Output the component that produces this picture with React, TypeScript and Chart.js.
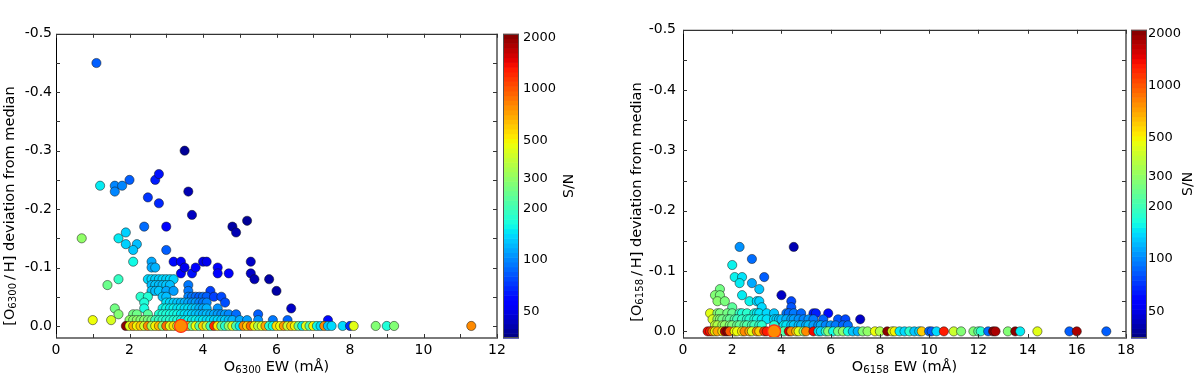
import React, { useEffect, useRef } from "react";
import { Chart, registerables } from "chart.js";

Chart.register(...registerables);

type Pt = [number, number, number]; // [EW (mÅ), deviation from median, S/N]

// ---------- axis / colour-scale values ----------
const SN_MIN = 35;
const SN_MAX = 2100;
const SN_TICKS = [50, 100, 200, 300, 500, 1000, 2000];
const DEV_TICKS = [-0.5, -0.4, -0.3, -0.2, -0.1, 0.0];
const LEFT_EW_TICKS = [0, 2, 4, 6, 8, 10, 12];
const RIGHT_EW_TICKS = [0, 2, 4, 6, 8, 10, 12, 14, 16, 18];

// ---------- left panel: O 6300 ----------
const LEFT_SCATTER: Pt[] = [
  [1.1, -0.45, 85], [1.2, -0.24, 150], [1.6, -0.24, 100], [1.6, -0.23, 100], [1.8, -0.24, 100],
  [2.0, -0.25, 85], [2.5, -0.22, 72], [2.7, -0.25, 65], [2.8, -0.26, 62], [2.8, -0.21, 68],
  [3.5, -0.30, 38], [3.6, -0.23, 42], [3.7, -0.19, 44], [2.4, -0.17, 90], [3.0, -0.17, 58],
  [4.8, -0.17, 40], [4.9, -0.16, 42], [5.2, -0.18, 38], [0.7, -0.15, 300], [1.7, -0.15, 150],
  [1.9, -0.16, 135], [1.9, -0.14, 135], [2.2, -0.14, 125], [2.1, -0.13, 130], [2.1, -0.11, 160],
  [3.0, -0.13, 85], [2.6, -0.11, 115], [2.6, -0.10, 115], [2.7, -0.10, 120], [3.2, -0.11, 60],
  [3.4, -0.11, 58], [3.4, -0.09, 55], [3.5, -0.10, 52], [3.7, -0.09, 62], [3.8, -0.10, 58],
  [4.0, -0.11, 52], [4.1, -0.11, 52], [4.4, -0.10, 55], [4.4, -0.09, 58], [4.7, -0.09, 55],
  [5.3, -0.11, 45], [5.3, -0.09, 45], [5.4, -0.08, 42], [5.8, -0.08, 40], [6.0, -0.06, 40],
  [6.4, -0.03, 45], [1.4, -0.07, 250], [1.7, -0.08, 190], [1.6, -0.03, 260], [1.7, -0.02, 280],
  [1.0, -0.01, 480], [1.5, -0.01, 430],
];

const LEFT_ROWS: Pt[] = [
  [2.5, -0.08, 140], [2.6, -0.08, 140], [2.7, -0.08, 135], [2.8, -0.08, 135], [2.9, -0.08, 140],
  [3.0, -0.08, 135], [3.1, -0.08, 140], [3.2, -0.08, 135],
  [2.6, -0.07, 125], [2.7, -0.07, 130], [2.8, -0.07, 125], [2.9, -0.07, 125], [3.0, -0.07, 130],
  [3.1, -0.07, 125], [3.6, -0.07, 95],
  [2.6, -0.06, 130], [2.7, -0.06, 125], [2.8, -0.06, 130], [3.0, -0.06, 115], [3.2, -0.06, 110],
  [3.6, -0.06, 95], [4.2, -0.06, 75],
  [2.3, -0.05, 180], [2.5, -0.05, 175], [2.9, -0.05, 130], [3.0, -0.05, 125], [3.6, -0.05, 100],
  [3.7, -0.05, 95], [3.8, -0.05, 90], [3.9, -0.05, 85], [4.0, -0.05, 90], [4.1, -0.05, 85],
  [4.3, -0.05, 75], [4.5, -0.05, 78],
  [2.4, -0.04, 170], [3.0, -0.04, 145], [3.1, -0.04, 140], [3.2, -0.04, 135], [3.3, -0.04, 130],
  [3.4, -0.04, 125], [3.5, -0.04, 120], [3.6, -0.04, 115], [3.7, -0.04, 105], [3.8, -0.04, 110],
  [3.9, -0.04, 100], [4.0, -0.04, 95], [4.1, -0.04, 100], [4.6, -0.04, 80],
  [2.4, -0.03, 165], [2.9, -0.03, 155], [3.0, -0.03, 160], [3.1, -0.03, 150], [3.2, -0.03, 155],
  [3.3, -0.03, 145], [3.4, -0.03, 150], [3.5, -0.03, 140], [3.6, -0.03, 145], [3.7, -0.03, 135],
  [3.8, -0.03, 130], [3.9, -0.03, 120], [4.0, -0.03, 115], [4.1, -0.03, 120], [4.4, -0.03, 105],
  [2.1, -0.02, 260], [2.2, -0.02, 255], [2.5, -0.02, 230], [2.8, -0.02, 175], [2.9, -0.02, 170],
  [3.0, -0.02, 170], [3.1, -0.02, 165], [3.2, -0.02, 160], [3.3, -0.02, 160], [3.4, -0.02, 150],
  [3.5, -0.02, 145], [3.6, -0.02, 140], [3.7, -0.02, 135], [3.8, -0.02, 130], [3.9, -0.02, 125],
  [4.0, -0.02, 120], [4.1, -0.02, 125], [4.2, -0.02, 120], [4.3, -0.02, 115], [4.4, -0.02, 110],
  [4.5, -0.02, 105], [4.6, -0.02, 110], [4.7, -0.02, 100], [4.9, -0.02, 90], [5.5, -0.02, 85],
  [2.0, -0.01, 300], [2.1, -0.01, 290], [2.2, -0.01, 300], [2.3, -0.01, 280], [2.4, -0.01, 290],
  [2.5, -0.01, 270], [2.6, -0.01, 260], [2.7, -0.01, 200], [2.8, -0.01, 190], [2.9, -0.01, 185],
  [3.0, -0.01, 175], [3.1, -0.01, 180], [3.2, -0.01, 170], [3.3, -0.01, 175], [3.4, -0.01, 160],
  [3.5, -0.01, 150], [3.6, -0.01, 160], [3.7, -0.01, 150], [3.8, -0.01, 155], [3.9, -0.01, 145],
  [4.0, -0.01, 150], [4.1, -0.01, 140], [4.2, -0.01, 145], [4.3, -0.01, 135], [4.4, -0.01, 140],
  [4.5, -0.01, 130], [4.6, -0.01, 135], [4.7, -0.01, 125], [4.8, -0.01, 120], [5.0, -0.01, 115],
  [5.2, -0.01, 110], [5.5, -0.01, 105], [5.9, -0.01, 95], [6.3, -0.01, 88], [7.4, -0.01, 60],
];

const LEFT_BASELINE: Pt[] = [
  [1.9, 0, 2000], [2.0, 0, 450], [2.1, 0, 700], [2.2, 0, 500], [2.3, 0, 600], [2.4, 0, 420],
  [2.5, 0, 800], [2.6, 0, 350], [2.7, 0, 500], [2.8, 0, 650], [2.9, 0, 300], [3.0, 0, 900],
  [3.1, 0, 450], [3.2, 0, 550], [3.3, 0, 380], [3.5, 0, 500], [3.6, 0, 700], [3.7, 0, 260],
  [3.8, 0, 480], [3.9, 0, 230], [4.0, 0, 600], [4.1, 0, 400], [4.2, 0, 200], [4.3, 0, 1200],
  [4.4, 0, 520], [4.5, 0, 250], [4.6, 0, 180], [4.7, 0, 300], [4.8, 0, 450], [4.9, 0, 220],
  [5.0, 0, 150], [5.1, 0, 800], [5.2, 0, 600], [5.3, 0, 900], [5.4, 0, 500], [5.5, 0, 350],
  [5.6, 0, 450], [5.7, 0, 700], [5.8, 0, 180], [5.9, 0, 160], [6.0, 0, 550], [6.1, 0, 480],
  [6.2, 0, 750], [6.3, 0, 400], [6.4, 0, 600], [6.5, 0, 500], [6.6, 0, 250], [6.7, 0, 150],
  [6.8, 0, 450], [6.9, 0, 220], [7.0, 0, 500], [7.1, 0, 160], [7.2, 0, 140], [7.3, 0, 800],
  [7.4, 0, 130], [7.5, 0, 140], [7.8, 0, 140], [8.0, 0, 70], [8.1, 0, 450], [8.7, 0, 280],
  [9.0, 0, 170], [9.2, 0, 280], [11.3, 0, 800],
];
const LEFT_MARKED: Pt = [3.4, 0, 800];

// ---------- right panel: O 6158 ----------
const RIGHT_SCATTER: Pt[] = [
  [2.3, -0.14, 105], [4.5, -0.14, 42], [2.8, -0.12, 90], [2.0, -0.11, 155], [2.1, -0.09, 155],
  [2.4, -0.09, 145], [3.3, -0.09, 85], [2.3, -0.08, 150], [2.8, -0.08, 115], [1.5, -0.07, 260],
  [3.1, -0.07, 130], [1.3, -0.06, 280], [1.5, -0.06, 270], [2.4, -0.06, 150], [4.0, -0.06, 45],
  [1.4, -0.05, 290], [1.7, -0.05, 270], [2.7, -0.05, 155], [3.0, -0.05, 140], [3.1, -0.05, 135],
  [4.4, -0.05, 78], [2.0, -0.04, 230], [3.2, -0.04, 140], [4.4, -0.04, 82],
];

const RIGHT_ROWS: Pt[] = [
  [1.1, -0.03, 450], [1.4, -0.03, 280], [1.5, -0.03, 270], [1.8, -0.03, 260], [2.0, -0.03, 240],
  [2.3, -0.03, 190], [2.4, -0.03, 170], [2.6, -0.03, 180], [2.9, -0.03, 160], [3.0, -0.03, 150],
  [3.1, -0.03, 145], [3.4, -0.03, 140], [3.7, -0.03, 130], [4.2, -0.03, 95], [4.3, -0.03, 90],
  [4.5, -0.03, 95], [4.8, -0.03, 88], [5.3, -0.03, 65], [5.4, -0.03, 65], [5.9, -0.03, 60],
  [1.2, -0.02, 420], [1.4, -0.02, 300], [1.5, -0.02, 290], [1.6, -0.02, 260], [1.8, -0.02, 250],
  [1.9, -0.02, 240], [2.1, -0.02, 220], [2.2, -0.02, 200], [2.4, -0.02, 190], [2.6, -0.02, 180],
  [2.7, -0.02, 175], [2.9, -0.02, 170], [3.0, -0.02, 160], [3.2, -0.02, 150], [3.4, -0.02, 145],
  [3.7, -0.02, 140], [3.8, -0.02, 135], [3.9, -0.02, 130], [4.0, -0.02, 125], [4.2, -0.02, 120],
  [4.4, -0.02, 115], [4.5, -0.02, 110], [4.7, -0.02, 105], [4.9, -0.02, 100], [5.1, -0.02, 105],
  [5.3, -0.02, 95], [5.7, -0.02, 88], [6.3, -0.02, 82], [6.6, -0.02, 78], [7.2, -0.02, 45],
  [1.3, -0.01, 380], [1.4, -0.01, 350], [1.6, -0.01, 320], [1.7, -0.01, 300], [1.9, -0.01, 280],
  [2.0, -0.01, 270], [2.2, -0.01, 250], [2.3, -0.01, 240], [2.5, -0.01, 230], [2.6, -0.01, 220],
  [2.8, -0.01, 210], [2.9, -0.01, 200], [3.1, -0.01, 190], [3.2, -0.01, 180], [3.7, -0.01, 170],
  [4.1, -0.01, 150], [4.2, -0.01, 145], [4.4, -0.01, 135], [4.5, -0.01, 130], [4.7, -0.01, 125],
  [4.8, -0.01, 120], [5.0, -0.01, 115], [5.1, -0.01, 125], [5.3, -0.01, 110], [5.5, -0.01, 105],
  [5.6, -0.01, 115], [5.8, -0.01, 100], [6.0, -0.01, 105], [6.2, -0.01, 95], [6.5, -0.01, 88],
  [6.7, -0.01, 92],
];

const RIGHT_BASELINE: Pt[] = [
  [1.0, 0, 1400], [1.1, 0, 1300], [1.2, 0, 900], [1.3, 0, 500], [1.4, 0, 700], [1.6, 0, 550],
  [1.7, 0, 1800], [1.8, 0, 2000], [1.9, 0, 1000], [2.1, 0, 500], [2.2, 0, 480], [2.4, 0, 520],
  [2.5, 0, 800], [2.7, 0, 700], [2.8, 0, 450], [3.0, 0, 800], [3.1, 0, 600], [3.3, 0, 1100],
  [3.4, 0, 1300], [3.9, 0, 280], [4.1, 0, 220], [4.3, 0, 1500], [4.4, 0, 800], [4.6, 0, 650],
  [4.7, 0, 450], [4.9, 0, 300], [5.0, 0, 800], [5.3, 0, 1400], [5.5, 0, 150], [5.6, 0, 140],
  [5.8, 0, 180], [5.9, 0, 280], [6.1, 0, 160], [6.3, 0, 260], [6.5, 0, 300], [6.7, 0, 170],
  [6.9, 0, 130], [7.1, 0, 120], [7.3, 0, 280], [7.5, 0, 300], [7.8, 0, 480], [8.0, 0, 350],
  [8.3, 0, 2000], [8.5, 0, 450], [8.6, 0, 500], [8.8, 0, 150], [9.0, 0, 140], [9.2, 0, 180],
  [9.4, 0, 130], [9.6, 0, 140], [9.7, 0, 600], [10.0, 0, 90], [10.1, 0, 85], [10.3, 0, 140],
  [10.6, 0, 1300], [11.0, 0, 400], [11.3, 0, 280], [11.8, 0, 280], [12.0, 0, 230], [12.1, 0, 180],
  [12.4, 0, 90], [12.6, 0, 2000], [12.7, 0, 1800], [13.2, 0, 280], [13.5, 0, 2000], [13.7, 0, 150],
  [14.4, 0, 450], [15.7, 0, 85], [16.0, 0, 1800], [17.2, 0, 85],
];
const RIGHT_MARKED: Pt = [3.7, 0, 800];

// ---------- jet colour map (log S/N) ----------
const JET_R = [[0, 0], [0.35, 0], [0.66, 1], [0.89, 1], [1, 0.5]];
const JET_G = [[0, 0], [0.125, 0], [0.375, 1], [0.64, 1], [0.91, 0], [1, 0]];
const JET_B = [[0, 0.5], [0.11, 1], [0.34, 1], [0.65, 0], [1, 0]];

function interp(pts: number[][], t: number): number {
  for (let i = 1; i < pts.length; i++) {
    if (t <= pts[i][0]) {
      const [x0, y0] = pts[i - 1];
      const [x1, y1] = pts[i];
      return y0 + ((y1 - y0) * (t - x0)) / (x1 - x0);
    }
  }
  return pts[pts.length - 1][1];
}
function jet(t: number): string {
  const c = Math.max(0, Math.min(1, t));
  const r = Math.round(interp(JET_R, c) * 255);
  const g = Math.round(interp(JET_G, c) * 255);
  const b = Math.round(interp(JET_B, c) * 255);
  return `rgb(${r},${g},${b})`;
}
const LMIN = Math.log(SN_MIN);
const LMAX = Math.log(SN_MAX);
function snColor(sn: number): string {
  return jet((Math.log(sn) - LMIN) / (LMAX - LMIN));
}

const FONT = "DejaVu Sans";

type Seg = { t: string; sub?: boolean };
function drawRich(ctx: CanvasRenderingContext2D, segs: Seg[], cx: number, cy: number, size: number, rot: boolean) {
  ctx.save();
  ctx.translate(cx, cy);
  if (rot) ctx.rotate(-Math.PI / 2);
  const subSize = size * 0.7;
  let total = 0;
  const widths = segs.map((s) => {
    ctx.font = `${s.sub ? subSize : size}px "${FONT}"`;
    const w = ctx.measureText(s.t).width;
    total += w;
    return w;
  });
  let x = -total / 2;
  ctx.fillStyle = "#000";
  ctx.textBaseline = "middle";
  ctx.textAlign = "left";
  segs.forEach((s, i) => {
    ctx.font = `${s.sub ? subSize : size}px "${FONT}"`;
    ctx.fillText(s.t, x, s.sub ? size * 0.25 : 0);
    x += widths[i];
  });
  ctx.restore();
}

interface PanelCfg {
  scatter: Pt[];
  rows: Pt[];
  baseline: Pt[];
  marked: Pt;
  xMax: number;
  xTicks: number[];
  xMinorStep: number;
  yMax: number;
  leftW: number;
  rightW: number;
  yTickPad: number;
  cbOff: number;
  cbLabelPad: number;
  snOff: number;
  yTitleX: number;
  yTitleY: number;
  line: string;
}

const CB_W = 16;

function makeDecor(cfg: PanelCfg) {
  return {
    id: "panelDecor",
    afterDraw(chart: any) {
      const ctx: CanvasRenderingContext2D = chart.ctx;
      const a = chart.chartArea;
      const xs = chart.scales.x;
      const ys = chart.scales.y;
      const cb = chart.scales.cb;
      ctx.save();
      // colour bar
      const x0 = a.right + cfg.cbOff;
      const N = 64;
      for (let i = 0; i < N; i++) {
        const v0 = Math.exp(LMIN + ((LMAX - LMIN) * i) / N);
        const v1 = Math.exp(LMIN + ((LMAX - LMIN) * (i + 1)) / N);
        const yA = cb.getPixelForValue(v0);
        const yB = cb.getPixelForValue(v1);
        ctx.fillStyle = jet((i + 0.5) / N);
        ctx.fillRect(x0, yB, CB_W, yA - yB + 0.6);
      }
      ctx.strokeStyle = "#555";
      ctx.lineWidth = 1;
      ctx.strokeRect(x0 + 0.5, a.top + 0.5, CB_W - 1, a.bottom - a.top - 1);

      // frame
      ctx.strokeStyle = "#000";
      ctx.lineWidth = 1;
      ctx.beginPath();
      ctx.moveTo(a.left + 0.5, a.bottom);
      ctx.lineTo(a.left + 0.5, a.top + 0.5);
      ctx.lineTo(a.right, a.top + 0.5);
      ctx.stroke();
      ctx.strokeStyle = "#7a7a7a";
      ctx.lineWidth = 2;
      ctx.beginPath();
      ctx.moveTo(a.left, a.bottom);
      ctx.lineTo(a.right, a.bottom);
      ctx.lineTo(a.right, a.top);
      ctx.stroke();

      // inward ticks
      ctx.strokeStyle = "#333";
      ctx.lineWidth = 1;
      ctx.beginPath();
      for (let v = 0; v <= cfg.xMax + 1e-9; v += cfg.xMinorStep) {
        const px = Math.round(xs.getPixelForValue(v)) + 0.5;
        ctx.moveTo(px, a.bottom);
        ctx.lineTo(px, a.bottom - 4);
        ctx.moveTo(px, a.top);
        ctx.lineTo(px, a.top + 4);
      }
      for (let k = 0; k <= 10; k++) {
        const v = -0.5 + k * 0.05;
        const py = Math.round(ys.getPixelForValue(v)) + 0.5;
        ctx.moveTo(a.left, py);
        ctx.lineTo(a.left + 4, py);
        ctx.moveTo(a.right, py);
        ctx.lineTo(a.right - 4, py);
      }
      ctx.stroke();

      // titles
      drawRich(ctx, [{ t: "O" }, { t: cfg.line, sub: true }, { t: " EW (mÅ)" }],
        (a.left + a.right) / 2, 367, 14.5, false);
      drawRich(
        ctx,
        [{ t: "[O" }, { t: cfg.line, sub: true }, { t: "\u2009/\u2009H]" }, { t: " deviation from median" }],
        cfg.yTitleX, cfg.yTitleY, 14.5, true
      );
      drawRich(ctx, [{ t: "S/N" }], a.right + cfg.snOff, (a.top + a.bottom) / 2, 14, true);
      ctx.restore();
    },
  };
}

function Panel({ cfg }: { cfg: PanelCfg }) {
  const ref = useRef<HTMLCanvasElement | null>(null);
  useEffect(() => {
    if (!ref.current) return;
    const pts: Pt[] = [...cfg.scatter, ...cfg.rows, ...cfg.baseline];
    const tickFont = { family: FONT, size: 14 };
    const chart = new Chart(ref.current, {
      type: "scatter",
      data: {
        datasets: [
          {
            data: [{ x: cfg.marked[0], y: cfg.marked[1] }],
            backgroundColor: snColor(cfg.marked[2]),
            borderColor: "#ff2a1a",
            borderWidth: 1.2,
            pointRadius: 6.5,
            pointHoverRadius: 6.5,
          },
          {
            data: pts.map((p) => ({ x: p[0], y: p[1] })),
            backgroundColor: (c: any) => snColor(pts[c.dataIndex]?.[2] ?? 100),
            borderColor: "rgba(20,20,20,0.85)",
            borderWidth: 0.6,
            pointRadius: 4.6,
            pointHoverRadius: 4.6,
          },
        ],
      },
      options: {
        responsive: false,
        animation: false,
        events: [],
        layout: { padding: { top: 10, left: 0, right: 0, bottom: 0 } },
        plugins: { legend: { display: false }, tooltip: { enabled: false } },
        scales: {
          x: {
            type: "linear",
            min: 0,
            max: cfg.xMax,
            grid: { display: false, drawTicks: false },
            border: { display: false },
            ticks: { font: tickFont, color: "#000", padding: 4, maxRotation: 0, autoSkip: false },
            afterBuildTicks: (s: any) => {
              s.ticks = cfg.xTicks.map((v) => ({ value: v }));
            },
            afterFit: (s: any) => {
              s.height = 41;
            },
          },
          y: {
            type: "linear",
            position: "left",
            reverse: true,
            min: -0.5,
            max: cfg.yMax,
            grid: { display: false, drawTicks: false },
            border: { display: false },
            ticks: {
              font: tickFont,
              color: "#000",
              padding: cfg.yTickPad,
              autoSkip: false,
              callback: (v: any) => Number(v).toFixed(1),
            },
            afterBuildTicks: (s: any) => {
              s.ticks = DEV_TICKS.map((v) => ({ value: v }));
            },
            afterFit: (s: any) => {
              s.width = cfg.leftW;
            },
          },
          cb: {
            type: "logarithmic",
            position: "right",
            min: SN_MIN,
            max: SN_MAX,
            grid: { display: false, drawTicks: false },
            border: { display: false },
            ticks: {
              font: { family: FONT, size: 13 },
              color: "#000",
              padding: cfg.cbLabelPad,
              autoSkip: false,
              callback: (v: any) => String(v),
            },
            afterBuildTicks: (s: any) => {
              s.ticks = SN_TICKS.map((v) => ({ value: v }));
            },
            afterFit: (s: any) => {
              s.width = cfg.rightW;
            },
          },
        },
      } as any,
      plugins: [makeDecor(cfg)],
    });
    return () => chart.destroy();
  }, [cfg]);
  return <canvas ref={ref} width={600} height={379} style={{ display: "block", width: 600, height: 379 }} />;
}

const LEFT_CFG: PanelCfg = {
  scatter: LEFT_SCATTER,
  rows: LEFT_ROWS,
  baseline: LEFT_BASELINE,
  marked: LEFT_MARKED,
  xMax: 12,
  xTicks: LEFT_EW_TICKS,
  xMinorStep: 1,
  yMax: 0.0206,
  leftW: 56,
  rightW: 103,
  yTickPad: 4,
  cbOff: 6,
  cbLabelPad: 26,
  snOff: 72,
  yTitleX: 10,
  yTitleY: 206,
  line: "6300",
};

const RIGHT_CFG: PanelCfg = {
  scatter: RIGHT_SCATTER,
  rows: RIGHT_ROWS,
  baseline: RIGHT_BASELINE,
  marked: RIGHT_MARKED,
  xMax: 18,
  xTicks: RIGHT_EW_TICKS,
  xMinorStep: 2,
  yMax: 0.011,
  leftW: 83,
  rightW: 74,
  yTickPad: 7,
  cbOff: 5,
  cbLabelPad: 22,
  snOff: 62,
  yTitleX: 37,
  yTitleY: 202,
  line: "6158",
};

export default function App() {
  useEffect(() => {
    document.body.style.margin = "0";
  }, []);
  return (
    <div style={{ position: "absolute", left: 0, top: 0, width: 1200, height: 379, background: "#fff", display: "flex" }}>
      <Panel cfg={LEFT_CFG} />
      <Panel cfg={RIGHT_CFG} />
    </div>
  );
}
